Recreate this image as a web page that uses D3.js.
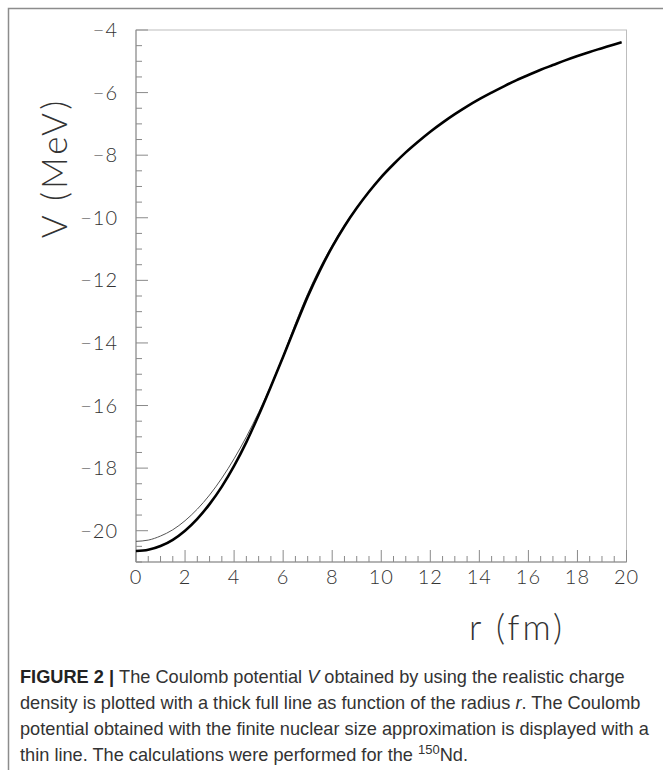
<!DOCTYPE html>
<html>
<head>
<meta charset="utf-8">
<script src="https://cdn.jsdelivr.net/npm/d3@7"></script>
<style>
  html, body { margin: 0; padding: 0; background: #fff; }
</style>
</head>
<body>
<div class="chart"></div>
<script>
const W = 663, H = 770

// values
const radius = [0, 0.5, 1, 1.5, 2, 2.5, 3, 3.5, 4, 4.5, 5, 5.5, 6, 6.5, 7, 7.5, 8, 8.5, 9, 9.5,
  10, 10.5, 11, 11.5, 12, 12.5, 13, 13.5, 14, 14.5, 15, 15.5, 16, 16.5, 17, 17.5, 18, 18.5, 19, 19.5, 19.8]
const vRealistic = [-20.65, -20.61, -20.49, -20.29, -20.00, -19.62, -19.15, -18.59, -17.93, -17.17, -16.31, -15.39,
  -14.44, -13.47, -12.52, -11.68, -10.93, -10.27, -9.69, -9.17, -8.70, -8.29, -7.91, -7.57, -7.25, -6.96, -6.69,
  -6.44, -6.21, -6.00, -5.80, -5.61, -5.44, -5.27, -5.12, -4.97, -4.83, -4.70, -4.58, -4.46, -4.39]
const vFinite = [-20.34, -20.30, -20.17, -19.97, -19.68, -19.31, -18.86, -18.32, -17.70, -17.00, -16.22, -15.36,
  -14.41, -13.38, -12.43, -11.60, -10.88, -10.24, -9.67, -9.16, -8.70, -8.29, -7.91, -7.57, -7.25, -6.96, -6.69,
  -6.44, -6.21, -6.00, -5.80, -5.61, -5.44, -5.27, -5.12, -4.97, -4.83, -4.70, -4.58, -4.46, -4.39]
const xMajor = [0, 2, 4, 6, 8, 10, 12, 14, 16, 18, 20]
const yMajor = [-4, -6, -8, -10, -12, -14, -16, -18, -20]

const x = d3.scaleLinear().domain([0, 20]).range([136, 626.5])
const y = d3.scaleLinear().domain([-21, -4]).range([562, 30])

const svg = d3.create("svg")
  .attr("width", W)
  .attr("height", H)
  .attr("viewBox", [0, 0, W, H])

// outer figure frame
svg.append("path")
  .attr("d", `M8.5,${H} V8.5 H${W}`)
  .attr("fill", "none")
  .attr("stroke", "#8c8c8c")
  .attr("stroke-width", 1.5)

// plot frame
svg.append("rect")
  .attr("x", x(0)).attr("y", y(-4))
  .attr("width", x(20) - x(0)).attr("height", y(-21) - y(-4))
  .attr("fill", "none")
  .attr("stroke", "#bdbdbd")
  .attr("stroke-width", 1)

const minorX = d3.range(0, 20.01, 0.5)
const minorY = d3.range(-21, -3.99, 0.5)

svg.append("g")
  .selectAll("line")
  .data(minorX)
  .join("line")
  .attr("x1", d => x(d)).attr("x2", d => x(d))
  .attr("y1", y(-21))
  .attr("y2", d => y(-21) - (d % 2 === 0 ? 12 : 6))
  .attr("stroke", "#8a8a8a")
  .attr("stroke-width", 1)

svg.append("g")
  .selectAll("line")
  .data(minorY)
  .join("line")
  .attr("y1", d => y(d)).attr("y2", d => y(d))
  .attr("x1", x(0))
  .attr("x2", d => x(0) + (d % 2 === 0 ? 12 : 6))
  .attr("stroke", "#8a8a8a")
  .attr("stroke-width", 1)

// axis lines on top of ticks
svg.append("line")
  .attr("x1", x(0)).attr("x2", x(20)).attr("y1", y(-21)).attr("y2", y(-21))
  .attr("stroke", "#8a8a8a")
svg.append("line")
  .attr("x1", x(0)).attr("x2", x(0)).attr("y1", y(-21)).attr("y2", y(-4))
  .attr("stroke", "#8a8a8a")

const tickFont = "300 20px Lato, 'Liberation Sans', sans-serif"

svg.append("g")
  .selectAll("text")
  .data(xMajor)
  .join("text")
  .attr("x", d => x(d))
  .attr("y", 584)
  .attr("text-anchor", "middle")
  .style("font", tickFont)
  .style("letter-spacing", "1px")
  .attr("fill", "#333")
  .text(d => d)

svg.append("g")
  .selectAll("text")
  .data(yMajor)
  .join("text")
  .attr("x", 118)
  .attr("y", d => y(d) + 7)
  .attr("text-anchor", "end")
  .style("font", tickFont)
  .style("letter-spacing", "1px")
  .attr("fill", "#333")
  .text(d => "\u2212" + Math.abs(d))

svg.append("text")
  .attr("x", 517)
  .attr("y", 640)
  .attr("text-anchor", "middle")
  .style("font", "300 35px Lato, 'Liberation Sans', sans-serif")
  .style("letter-spacing", "3px")
  .attr("fill", "#333")
  .text("r (fm)")

svg.append("text")
  .attr("transform", "translate(67,168) rotate(-90)")
  .attr("text-anchor", "middle")
  .style("font", "300 35px Lato, 'Liberation Sans', sans-serif")
  .style("letter-spacing", "3px")
  .attr("fill", "#333")
  .text("V (MeV)")

// curves
const line = v => d3.line()
  .x((d, i) => x(radius[i]))
  .y((d, i) => y(v[i]))
  .curve(d3.curveMonotoneX)(radius)

svg.append("path")
  .attr("d", line(vFinite))
  .attr("fill", "none")
  .attr("stroke", "#555")
  .attr("stroke-width", 1)

svg.append("path")
  .attr("d", line(vRealistic))
  .attr("fill", "none")
  .attr("stroke", "#000")
  .attr("stroke-width", 2.6)

// caption
const capFont = "18.2px 'Liberation Sans', Arial, sans-serif"
const cap = svg.append("g").style("font", capFont).attr("fill", "#333")

const l1 = cap.append("text").attr("x", 20).attr("y", 683)
l1.append("tspan").style("font-weight", "bold").attr("fill", "#222").text("FIGURE 2 | ")
l1.append("tspan").text("The Coulomb potential ")
l1.append("tspan").style("font-style", "italic").text("V")
l1.append("tspan").text(" obtained by using the realistic charge")

const l2 = cap.append("text").attr("x", 20).attr("y", 709)
l2.append("tspan").text("density is plotted with a thick full line as function of the radius ")
l2.append("tspan").style("font-style", "italic").text("r")
l2.append("tspan").text(". The Coulomb")

cap.append("text").attr("x", 20).attr("y", 735)
  .text("potential obtained with the finite nuclear size approximation is displayed with a")

const l4 = cap.append("text").attr("x", 20).attr("y", 761)
l4.append("tspan").text("thin line. The calculations were performed for the ")
l4.append("tspan").attr("dy", -7).style("font-size", "13px").text("150")
l4.append("tspan").attr("dy", 7).text("Nd.")

document.querySelector(".chart").append(svg.node())
</script>
</body>
</html>
